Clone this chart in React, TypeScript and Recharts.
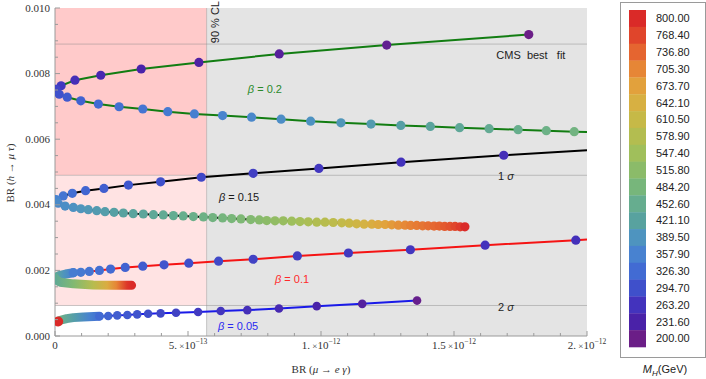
import React from 'react'
import { ScatterChart, Scatter, XAxis, YAxis, ReferenceArea, ReferenceLine, ReferenceDot } from 'recharts'

// units: BR(mu -> e gamma) in 1e-12, BR(h -> mu tau) in 1e-3, M_H in GeV

// colour bar, top to bottom
const MH_LABELS = ['800.00', '768.40', '736.80', '705.30', '673.70', '642.10', '610.50', '578.90', '547.40', '515.80', '484.20', '452.60', '421.10', '389.50', '357.90', '326.30', '294.70', '263.20', '231.60', '200.00']
const MH_COLORS = ['#da2a28', '#e0452b', '#e56530', '#e68636', '#e2a13c', '#d7b042', '#c6b947', '#b3bd50', '#a0bf5b', '#8bbb69', '#77b67b', '#66ad8f', '#58a29f', '#4e94bf', '#4882d0', '#426bd3', '#3f50cb', '#4333bd', '#4a22a8', '#6b1e87']

const X_TICKS = [0, 0.1, 0.2, 0.3, 0.4, 0.5, 0.6, 0.7, 0.8, 0.9, 1, 1.1, 1.2, 1.3, 1.4, 1.5, 1.6, 1.7, 1.8, 1.9, 2]
const X_MAJOR = [0, 0.5, 1, 1.5, 2]
const X_MANT = ['0', '5.', '1.', '1.5', '2.']
const X_EXP = ['', '−13', '−12', '−12', '−12']
const Y_TICKS = [0, 0.5, 1, 1.5, 2, 2.5, 3, 3.5, 4, 4.5, 5, 5.5, 6, 6.5, 7, 7.5, 8, 8.5, 9, 9.5, 10]
const Y_MAJOR = [0, 2, 4, 6, 8, 10]
const Y_LABELS = ['0.000', '0.002', '0.004', '0.006', '0.008', '0.010']

// limits
const CL_X = 0.57
const CMS_Y = 8.9
const SIG1_Y = 4.9
const SIG2_Y = 0.93

// beta = 0.2  [x, y, M]
const B02_UP = [[1.781, 9.19, 200], [1.247, 8.87, 210], [0.843, 8.6, 219], [0.541, 8.34, 227], [0.324, 8.14, 234], [0.172, 7.95, 243], [0.075, 7.8, 256], [0.023, 7.63, 268], [0.004, 7.52, 282]]
const B02_LOW = [[0.016, 7.37, 296], [0.046, 7.28, 306], [0.097, 7.17, 316], [0.163, 7.07, 325], [0.241, 6.99, 333], [0.33, 6.92, 340], [0.424, 6.84, 347], [0.524, 6.77, 354], [0.63, 6.72, 361], [0.739, 6.67, 368], [0.85, 6.61, 377], [0.961, 6.55, 386], [1.075, 6.5, 395], [1.188, 6.46, 405], [1.3, 6.42, 415], [1.411, 6.39, 425], [1.521, 6.35, 435], [1.632, 6.32, 445], [1.741, 6.29, 455], [1.847, 6.26, 465], [1.952, 6.23, 475]]
const B02_EDGE = [2.0, 6.22]

// beta = 0.15
const B015_UP = [[1.687, 5.51, 255], [1.301, 5.3, 262], [0.992, 5.11, 268], [0.745, 4.96, 276], [0.55, 4.84, 285], [0.397, 4.7, 295], [0.276, 4.6, 303], [0.184, 4.5, 312], [0.115, 4.43, 320], [0.065, 4.35, 330], [0.031, 4.27, 340], [0.004, 4.16, 362]]
const B015_LOW = [[0.012, 4.05, 372], [0.038, 3.96, 378], [0.069, 3.92, 385], [0.097, 3.88, 392], [0.125, 3.85, 398], [0.157, 3.82, 404], [0.188, 3.79, 410], [0.222, 3.77, 416], [0.257, 3.75, 421], [0.294, 3.73, 426], [0.332, 3.72, 431], [0.37, 3.7, 437], [0.407, 3.69, 443], [0.445, 3.67, 449], [0.482, 3.66, 455], [0.52, 3.64, 461], [0.558, 3.63, 467], [0.593, 3.61, 474], [0.63, 3.6, 481], [0.664, 3.58, 488], [0.699, 3.57, 495], [0.736, 3.55, 502], [0.768, 3.54, 509], [0.796, 3.52, 517], [0.827, 3.51, 526], [0.858, 3.51, 535], [0.89, 3.5, 545], [0.921, 3.49, 555], [0.952, 3.48, 565], [0.984, 3.47, 575], [1.015, 3.47, 585], [1.046, 3.46, 595], [1.078, 3.45, 605], [1.106, 3.44, 615], [1.134, 3.42, 625], [1.162, 3.41, 636], [1.191, 3.41, 648], [1.215, 3.4, 660], [1.241, 3.4, 670], [1.266, 3.39, 682], [1.291, 3.38, 692], [1.316, 3.38, 702], [1.337, 3.37, 710], [1.36, 3.37, 716], [1.382, 3.36, 722], [1.403, 3.36, 728], [1.425, 3.35, 734], [1.445, 3.35, 740], [1.465, 3.34, 748], [1.485, 3.34, 756], [1.504, 3.34, 766], [1.523, 3.33, 780], [1.541, 3.33, 800]]
const B015_EDGE = [2.0, 5.66]

// beta = 0.1
const B01_UP = [[1.958, 2.92, 258], [1.617, 2.77, 262], [1.336, 2.63, 266], [1.103, 2.53, 270], [0.911, 2.44, 274], [0.745, 2.34, 280], [0.615, 2.28, 287], [0.503, 2.22, 294], [0.41, 2.17, 301], [0.33, 2.13, 309], [0.264, 2.09, 317], [0.209, 2.04, 325], [0.167, 2.0, 332], [0.129, 1.97, 339], [0.097, 1.94, 345], [0.069, 1.93, 350]]
const B01_TUBE_UP = [[0.069, 1.93], [0.04, 1.89], [0.015, 1.84], [0.0, 1.77]]
const B01_TUBE_LOW = [[0.0, 1.77], [0.006, 1.7], [0.019, 1.64], [0.069, 1.59], [0.144, 1.555], [0.219, 1.545], [0.288, 1.545]]
const B01_EDGE = [2.0, 2.94]
const B01_UP_STOPS = [[0, 440], [0.5, 390], [1, 352]]
const B01_LOW_STOPS = [[0, 440], [0.24, 500], [0.5, 585], [0.68, 650], [0.8, 705], [0.94, 785], [1, 800]]

// beta = 0.05
const B005_END = [[0.012, 0.44, 800]]
const B005_TUBE = [[0.012, 0.45], [0.02, 0.48], [0.044, 0.53], [0.069, 0.56], [0.106, 0.58], [0.167, 0.6]]
const B005_STOPS = [[0, 470], [0.4, 410], [0.75, 360], [1, 330]]
const B005_DOTS = [[0.167, 0.6, 325], [0.2, 0.61, 318], [0.234, 0.63, 311], [0.272, 0.64, 305], [0.309, 0.66, 299], [0.35, 0.68, 293], [0.397, 0.69, 286], [0.455, 0.71, 279], [0.538, 0.73, 272], [0.623, 0.76, 265], [0.723, 0.79, 256], [0.842, 0.84, 245], [0.984, 0.91, 233], [1.155, 0.98, 222], [1.361, 1.08, 205]]

const SERIF = '"Liberation Serif", "DejaVu Serif", serif'
const SANS = '"Liberation Sans", Arial, sans-serif'
const FRAME = '#9a9a9a'
const GREEN = '#127d12'
const RED = '#f51414'
const BLUE = '#1a1ae8'

const MH_VALUES = MH_LABELS.map(Number)

function hexMix(a: string, b: string, t: number) {
  const pa = [1, 3, 5].map(i => parseInt(a.slice(i, i + 2), 16))
  const pb = [1, 3, 5].map(i => parseInt(b.slice(i, i + 2), 16))
  return `rgb(${pa.map((v, i) => Math.round(v + (pb[i] - v) * t)).join(',')})`
}

function mhColor(m: number) {
  for (let i = 0; i < MH_VALUES.length - 1; i++) {
    const hi = MH_VALUES[i], lo = MH_VALUES[i + 1]
    if (m <= hi && m >= lo) return hexMix(MH_COLORS[i + 1], MH_COLORS[i], (m - lo) / (hi - lo))
  }
  return m > 800 ? MH_COLORS[0] : MH_COLORS[MH_COLORS.length - 1]
}

const pts = (a: number[][]) => a.map(([x, y, m]) => ({ x, y, m }))

const near = (list: number[], v: number) => list.findIndex(t => Math.abs(t - v) < 1e-6)

function BottomTick({ x, y, payload }: any) {
  const i = near(X_MAJOR, payload.value)
  return (
    <g>
      <line x1={x} x2={x} y1={y} y2={y - (i >= 0 ? 5 : 3)} stroke={FRAME} />
      {i >= 0 && (
        <text x={x} y={y + 13} textAnchor="middle" fontFamily={SERIF} fontSize={11} fill="#333">
          {X_MANT[i]}
          {X_EXP[i] && <tspan fontSize={9}>{'\u00a0×'}</tspan>}
          {X_EXP[i] && <tspan>10</tspan>}
          {X_EXP[i] && <tspan dy={-5} fontSize={7.5}>{X_EXP[i]}</tspan>}
        </text>
      )}
    </g>
  )
}

function TopTick({ x, y, payload }: any) {
  const major = near(X_MAJOR, payload.value) >= 0
  return <line x1={x} x2={x} y1={y} y2={y + (major ? 5 : 3)} stroke={FRAME} />
}

function LeftTick({ x, y, payload }: any) {
  const i = near(Y_MAJOR, payload.value)
  return (
    <g>
      <line x1={x} x2={x + (i >= 0 ? 5 : 3)} y1={y} y2={y} stroke={FRAME} />
      {i >= 0 && (
        <text x={x - 5} y={y + 3.5} textAnchor="end" fontFamily={SERIF} fontSize={11} fill="#333">{Y_LABELS[i]}</text>
      )}
    </g>
  )
}

function RightTick({ x, y, payload }: any) {
  const major = near(Y_MAJOR, payload.value) >= 0
  return <line x1={x} x2={x - (major ? 5 : 3)} y1={y} y2={y} stroke={FRAME} />
}

const NoShape = () => <g />
const dotShape = (r: number) => (p: any) => <circle cx={p.cx} cy={p.cy} r={r} fill={mhColor(p.payload.m)} />

function Grad({ id, stops }: { id: string; stops: number[][] }) {
  return (
    <linearGradient id={id} x1="0" y1="0" x2="1" y2="0">
      {stops.map(([o, m], i) => <stop key={i} offset={o} stopColor={mhColor(m)} />)}
    </linearGradient>
  )
}

function Beta({ x, y, value, color }: { x: number; y: number; value: string; color: string }) {
  return (
    <ReferenceDot x={x} y={y} r={0} ifOverflow="visible" shape={(p: any) => (
      <text x={p.cx} y={p.cy} dy="0.35em" textAnchor="middle" fontFamily={SANS} fontSize={11} fill={color}>
        <tspan fontStyle="italic">β</tspan> = {value}
      </text>
    )} />
  )
}

function Note({ x, y, children, rotate }: { x: number; y: number; children: React.ReactNode; rotate?: boolean }) {
  return (
    <ReferenceDot x={x} y={y} r={0} ifOverflow="visible" shape={(p: any) => (
      <text x={p.cx} y={p.cy} dy="0.35em" textAnchor="middle" fontFamily={SANS} fontSize={11} fill="#222"
        transform={rotate ? `rotate(-90 ${p.cx} ${p.cy})` : undefined}>
        {children}
      </text>
    )} />
  )
}

const B02_PATH = pts([...B02_UP, ...B02_LOW, B02_EDGE])
const B015_PATH = pts([B015_EDGE, ...B015_UP, ...B015_LOW])
const B01_PATH = pts([B01_EDGE, ...B01_UP, ...B01_TUBE_UP.slice(1), ...B01_TUBE_LOW.slice(1)])
const B005_PATH = pts([...B005_TUBE, ...B005_DOTS.slice(1)])

const lineProps = (stroke: string) => ({ stroke, strokeWidth: 2 })
const tubeProps = (id: string) => ({ stroke: `url(#${id})`, strokeWidth: 9, strokeLinecap: 'round' as const, strokeLinejoin: 'round' as const })

export default function App() {
  const cellTop = 10
  const cellH = 16.85
  return (
    <div style={{ position: 'absolute', left: 0, top: 0, width: 706, height: 379, background: '#fff' }}>
      <ScatterChart width={610} height={379} margin={{ top: 8, right: 23, bottom: 0, left: 0 }}>
        <defs>
          <Grad id="b01up" stops={B01_UP_STOPS} />
          <Grad id="b01low" stops={B01_LOW_STOPS} />
          <Grad id="b005" stops={B005_STOPS} />
        </defs>
        <XAxis type="number" dataKey="x" domain={[0, 2]} allowDataOverflow ticks={X_TICKS} interval={0}
          tickSize={0} tickMargin={0} tickLine={false} tick={BottomTick} axisLine={{ stroke: FRAME }} height={43} />
        <XAxis xAxisId="top" orientation="top" type="number" domain={[0, 2]} allowDataOverflow ticks={X_TICKS} interval={0}
          tickSize={0} tickMargin={0} tickLine={false} tick={TopTick} axisLine={{ stroke: FRAME }} height={0} />
        <YAxis type="number" dataKey="y" domain={[0, 10]} allowDataOverflow ticks={Y_TICKS} interval={0}
          tickSize={0} tickMargin={0} tickLine={false} tick={LeftTick} axisLine={{ stroke: FRAME }} width={55} />
        <YAxis yAxisId="right" orientation="right" type="number" domain={[0, 10]} allowDataOverflow ticks={Y_TICKS} interval={0}
          tickSize={0} tickMargin={0} tickLine={false} tick={RightTick} axisLine={{ stroke: FRAME }} width={0} />

        <ReferenceArea x1={CL_X} x2={2} y1={0} y2={10} fill="#e4e4e4" fillOpacity={1} stroke="none" />
        <ReferenceArea x1={0} x2={CL_X} y1={SIG1_Y} y2={10} fill="#ffcaca" fillOpacity={1} stroke="none" />
        <ReferenceArea x1={0} x2={CL_X} y1={SIG2_Y} y2={SIG1_Y} fill="#ffe3e3" fillOpacity={1} stroke="none" />
        <ReferenceLine x={CL_X} stroke="#999" strokeOpacity={0.5} />
        <ReferenceLine y={CMS_Y} stroke="#888" strokeOpacity={0.45} />
        <ReferenceLine y={SIG1_Y} stroke="#888" strokeOpacity={0.45} />
        <ReferenceLine y={SIG2_Y} stroke="#888" strokeOpacity={0.45} />

        <Scatter data={B02_PATH} line={lineProps(GREEN)} shape={NoShape} isAnimationActive={false} />
        <Scatter data={B015_PATH} line={lineProps('#000')} shape={NoShape} isAnimationActive={false} />
        <Scatter data={B01_PATH} line={lineProps(RED)} shape={NoShape} isAnimationActive={false} />
        <Scatter data={B005_PATH} line={lineProps(BLUE)} shape={NoShape} isAnimationActive={false} />

        <Scatter data={pts(B01_TUBE_UP)} line={tubeProps('b01up')} shape={NoShape} isAnimationActive={false} />
        <Scatter data={pts(B01_TUBE_LOW)} line={tubeProps('b01low')} shape={NoShape} isAnimationActive={false} />
        <Scatter data={pts(B005_TUBE)} line={tubeProps('b005')} shape={NoShape} isAnimationActive={false} />

        <Scatter data={pts(B02_UP)} shape={dotShape(4.6)} isAnimationActive={false} />
        <Scatter data={pts(B02_LOW)} shape={dotShape(4.6)} isAnimationActive={false} />
        <Scatter data={pts(B015_UP)} shape={dotShape(4.6)} isAnimationActive={false} />
        <Scatter data={pts(B015_LOW)} shape={dotShape(4.6)} isAnimationActive={false} />
        <Scatter data={pts(B01_UP)} shape={dotShape(4.6)} isAnimationActive={false} />
        <Scatter data={pts(B005_DOTS)} shape={dotShape(4.3)} isAnimationActive={false} />
        <Scatter data={pts(B005_END)} shape={dotShape(5)} isAnimationActive={false} />

        <Beta x={0.789} y={7.53} value="0.2" color="#2a8a2a" />
        <Beta x={0.692} y={4.24} value="0.15" color="#1a1a1a" />
        <Beta x={0.891} y={1.74} value="0.1" color="#ff2a2a" />
        <Beta x={0.688} y={0.3} value="0.05" color="#2a2af0" />
        <Note x={1.789} y={8.57}>{'CMS\u00a0 best\u00a0\u00a0 fit'}</Note>
        <Note x={1.695} y={4.88}>1 <tspan fontStyle="italic">σ</tspan></Note>
        <Note x={1.695} y={0.88}>2 <tspan fontStyle="italic">σ</tspan></Note>
        <Note x={0.602} y={9.57} rotate>90 % CL</Note>
      </ScatterChart>

      <svg width={706} height={379} style={{ position: 'absolute', left: 0, top: 0, pointerEvents: 'none' }}>
        <text transform="translate(10,173) rotate(-90)" textAnchor="middle" dy="0.35em" fontFamily={SERIF} fontSize={11} fill="#333">
          BR (<tspan fontStyle="italic">h</tspan> → <tspan fontStyle="italic">μ τ</tspan>)
        </text>
        <text x={321} y={369} dy="0.35em" textAnchor="middle" fontFamily={SERIF} fontSize={11} fill="#333">
          BR (<tspan fontStyle="italic">μ</tspan> → <tspan fontStyle="italic">e γ</tspan>)
        </text>

        <rect x={620.5} y={2.5} width={85} height={355} fill="none" stroke={FRAME} />
        {MH_COLORS.map((c, i) => (
          <rect key={c} x={629} y={cellTop + i * cellH} width={17} height={cellH + 0.3} fill={c} />
        ))}
        {MH_LABELS.map((l, i) => (
          <text key={l} x={656} y={cellTop + (i + 0.5) * cellH} dy="0.35em" fontFamily={SANS} fontSize={11} fill="#222">{l}</text>
        ))}
        <text x={665} y={369} dy="0.35em" textAnchor="middle" fontFamily={SANS} fontSize={11} fill="#222">
          <tspan fontStyle="italic">M</tspan><tspan fontStyle="italic" fontSize={8} dy={3}>H</tspan><tspan dy={-3}>(GeV)</tspan>
        </text>
      </svg>
    </div>
  )
}
